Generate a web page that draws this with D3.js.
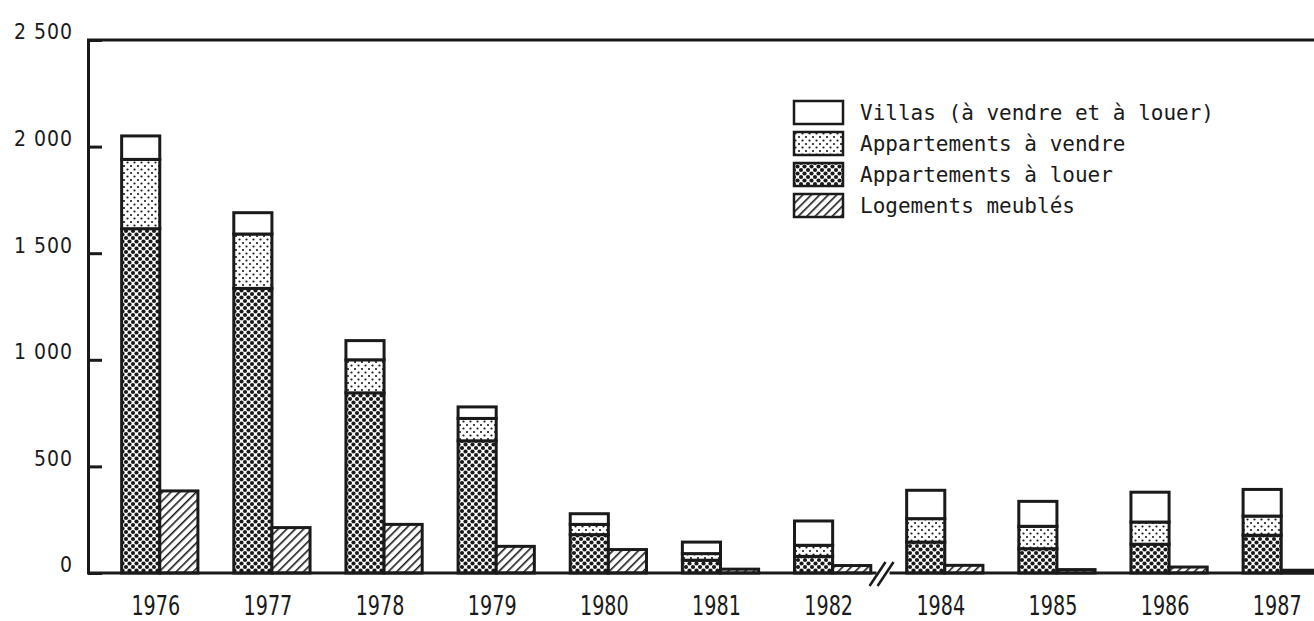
<!DOCTYPE html>
<html lang="fr">
<head>
    <meta charset="UTF-8">
    <title>Logements vacants 1976-1987</title>
    <style>
        body {
            margin: 0;
            padding: 0;
            background-color: #ffffff;
        }
        svg {
            display: block;
        }
        .num {
            font-family: "Liberation Sans Narrow", "DejaVu Sans Condensed", "Liberation Sans", sans-serif;
            fill: #1a1a1a;
        }
        .legend-text {
            font-family: "DejaVu Sans Mono", "Liberation Mono", monospace;
            font-size: 21px;
            fill: #1a1a1a;
        }
    </style>
    <script src="https://cdn.jsdelivr.net/npm/d3@7"></script>
</head>
<body>
    <script>
        // données
        const years = ["1976", "1977", "1978", "1979", "1980", "1981", "1982", "1984", "1985", "1986", "1987"];
        const apptLouer = [1615, 1335, 845, 620, 180, 60, 78, 145, 114, 135, 177];
        const apptVendre = [325, 255, 155, 105, 48, 31, 52, 110, 105, 104, 90];
        const villas = [110, 100, 90, 54, 50, 54, 114, 133, 117, 140, 125];
        const meubles = [385, 213, 228, 125, 110, 18, 35, 36, 16, 28, 13];
        const yTicks = [0, 500, 1000, 1500, 2000, 2500];
        const legendLabels = [
            "Villas (à vendre et à louer)",
            "Appartements à vendre",
            "Appartements à louer",
            "Logements meublés"
        ];

        const width = 1314;
        const height = 621;
        const ink = "#1a1a1a";

        const svg = d3.select("body").append("svg")
            .attr("width", width)
            .attr("height", height);

        // motifs (pointillés, hachures)
        const defs = svg.append("defs");

        const pLight = defs.append("pattern")
            .attr("id", "dotsLight")
            .attr("patternUnits", "userSpaceOnUse")
            .attr("width", 7).attr("height", 7);
        pLight.append("rect").attr("width", 7).attr("height", 7).attr("fill", "#ffffff");
        [[1.5, 1.5], [5, 5]].forEach(function(p) {
            pLight.append("circle").attr("cx", p[0]).attr("cy", p[1]).attr("r", 1.1).attr("fill", ink);
        });

        const pDense = defs.append("pattern")
            .attr("id", "dotsDense")
            .attr("patternUnits", "userSpaceOnUse")
            .attr("width", 7).attr("height", 7);
        pDense.append("rect").attr("width", 7).attr("height", 7).attr("fill", "#ffffff");
        [[0, 0], [7, 0], [0, 7], [7, 7], [3.5, 3.5]].forEach(function(p) {
            pDense.append("circle").attr("cx", p[0]).attr("cy", p[1]).attr("r", 2.1).attr("fill", ink);
        });

        const pHatch = defs.append("pattern")
            .attr("id", "hatch")
            .attr("patternUnits", "userSpaceOnUse")
            .attr("width", 6).attr("height", 6)
            .attr("patternTransform", "rotate(45)");
        pHatch.append("rect").attr("width", 6).attr("height", 6).attr("fill", "#ffffff");
        pHatch.append("line")
            .attr("x1", 0).attr("y1", 0).attr("x2", 0).attr("y2", 6)
            .attr("stroke", ink).attr("stroke-width", 3.2);

        const fills = ["#ffffff", "url(#dotsLight)", "url(#dotsDense)", "url(#hatch)"];

        // échelles
        const x = d3.scaleBand()
            .domain(years)
            .range([88, 1353])
            .paddingInner(0.32)
            .paddingOuter(0.3);

        const inner = d3.scaleBand()
            .domain(["pile", "meubles"])
            .range([0, x.bandwidth()]);

        const y = d3.scaleLinear()
            .domain([0, 2500])
            .range([573, 40]);

        // piles : louer, vendre, villas
        const rows = years.map(function(yr, i) {
            return { year: yr, louer: apptLouer[i], vendre: apptVendre[i], villas: villas[i] };
        });
        const stack = d3.stack().keys(["louer", "vendre", "villas"]);
        const series = stack(rows);
        const stackFill = { louer: fills[2], vendre: fills[1], villas: fills[0] };

        const bars = svg.append("g");

        series.forEach(function(s) {
            bars.selectAll(null)
                .data(s)
                .enter().append("rect")
                .attr("x", d => x(d.data.year) + inner("pile"))
                .attr("y", d => y(d[1]))
                .attr("width", inner.bandwidth())
                .attr("height", d => y(d[0]) - y(d[1]))
                .attr("fill", stackFill[s.key])
                .attr("stroke", ink)
                .attr("stroke-width", 3);
        });

        bars.selectAll(null)
            .data(meubles)
            .enter().append("rect")
            .attr("x", (d, i) => x(years[i]) + inner("meubles"))
            .attr("y", d => y(d))
            .attr("width", inner.bandwidth())
            .attr("height", d => y(0) - y(d))
            .attr("fill", fills[3])
            .attr("stroke", ink)
            .attr("stroke-width", 3);

        // axe vertical
        const yAxis = svg.append("g")
            .attr("transform", "translate(88,0)")
            .call(d3.axisLeft(y)
                .tickValues(yTicks)
                .tickSize(-14)
                .tickSizeOuter(0)
                .tickPadding(15)
                .tickFormat(d => d3.format(",")(d).replace(",", " ")));
        yAxis.select(".domain").attr("stroke", ink).attr("stroke-width", 3);
        yAxis.selectAll(".tick line").attr("stroke", ink).attr("stroke-width", 3);
        yAxis.selectAll(".tick text")
            .attr("class", "num")
            .attr("font-size", 21)
            .attr("dy", "-0.05em")
            .style("letter-spacing", "1px");

        // cadre du haut
        svg.append("line")
            .attr("x1", 87).attr("x2", width)
            .attr("y1", y(2500)).attr("y2", y(2500))
            .attr("stroke", ink).attr("stroke-width", 3);

        // ligne de base avec coupure entre 1982 et 1984
        const gapLeft = x("1982") + x.bandwidth();
        const breakX = gapLeft + (x("1984") - gapLeft) * 0.3;
        const base = y(0);
        svg.append("line")
            .attr("x1", 87).attr("x2", breakX - 5)
            .attr("y1", base).attr("y2", base)
            .attr("stroke", ink).attr("stroke-width", 3);
        svg.append("line")
            .attr("x1", breakX + 8).attr("x2", width)
            .attr("y1", base).attr("y2", base)
            .attr("stroke", ink).attr("stroke-width", 3);
        [-4, 4].forEach(function(off) {
            svg.append("line")
                .attr("x1", breakX + off - 8).attr("y1", base + 13)
                .attr("x2", breakX + off + 8).attr("y2", base - 11)
                .attr("stroke", ink).attr("stroke-width", 2.5);
        });

        // années (police étroite)
        const xAxis = svg.append("g")
            .attr("transform", `translate(-4,${base})`)
            .call(d3.axisBottom(x).tickSize(0).tickPadding(24));
        xAxis.select(".domain").remove();
        xAxis.selectAll(".tick text")
            .attr("class", "num")
            .attr("font-size", 26)
            .attr("transform", "scale(0.82,1)");

        // légende
        const legend = svg.append("g")
            .attr("transform", "translate(794,101)");
        const items = legend.selectAll("g")
            .data(legendLabels)
            .enter().append("g")
            .attr("transform", (d, i) => `translate(0,${i * 31})`);
        items.append("rect")
            .attr("width", 49)
            .attr("height", 23)
            .attr("fill", (d, i) => fills[i])
            .attr("stroke", ink)
            .attr("stroke-width", 2.5);
        items.append("text")
            .attr("class", "legend-text")
            .attr("x", 66)
            .attr("y", 12)
            .attr("dy", "0.35em")
            .text(d => d);
    </script>
</body>
</html>
